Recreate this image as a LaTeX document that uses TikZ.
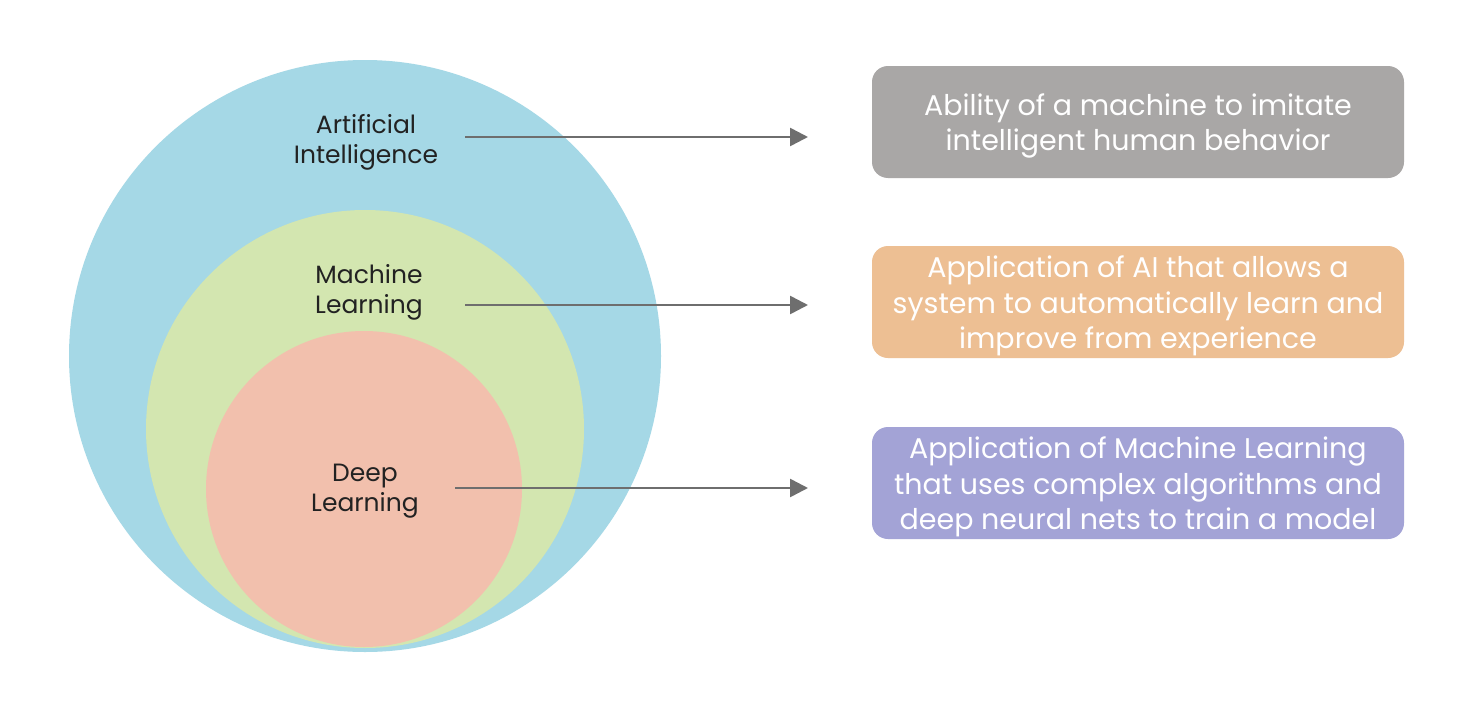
\documentclass[tikz,border=0pt]{standalone}
\usepackage{fontspec}
\setmainfont{Poppins}
\usetikzlibrary{arrows.meta}
\definecolor{aiblue}{HTML}{A5D8E6}
\definecolor{mlgreen}{HTML}{D3E6B0}
\definecolor{dlred}{HTML}{F2C0AD}
\definecolor{boxgray}{HTML}{A9A7A6}
\definecolor{boxorange}{HTML}{EDBF93}
\definecolor{boxpurple}{HTML}{A3A3D6}
\definecolor{arrowgray}{HTML}{6E6E6E}
\definecolor{labeltext}{HTML}{222222}
\tikzset{
  circlabel/.style={align=center, text=labeltext, font=\fontsize{25}{30}\selectfont, inner sep=0pt},
  descbox/.style={rounded corners=16pt, minimum width=532pt, minimum height=112pt, inner sep=0pt},
  desctext/.style={align=center, text=white, font=\fontsize{28.5}{35.5}\selectfont, inner sep=0pt, yshift=-4pt},
  linkarrow/.style={draw=arrowgray, line width=2.6pt, -{Triangle[length=18pt,width=18pt]}}
}
\begin{document}
\begin{tikzpicture}[x=1pt,y=-1pt]
\useasboundingbox (0,0) rectangle (1476,712);
\fill[white] (0,0) rectangle (1476,712);
% circles
\fill[aiblue] (365,356) circle (296);
\fill[mlgreen] (365,429) circle (219);
\fill[dlred] (364,489) circle (158);
% labels
\node[circlabel] (ai) at (366,142) {Artificial\\Intelligence};
\node[circlabel] (ml) at (369,292) {Machine\\Learning};
\node[circlabel] (dl) at (365,491) {Deep\\Learning};
% boxes
\node[descbox, fill=boxgray] (aibox) at (1138,122) {};
\node[desctext] (aitext) at (aibox.center) {Ability of a machine to imitate\\intelligent human behavior};
\node[descbox, fill=boxorange] (mlbox) at (1138,302) {};
\node[desctext] (mltext) at (mlbox.center) {Application of AI that allows a\\system to automatically learn and\\improve from experience};
\node[descbox, fill=boxpurple] (dlbox) at (1138,483) {};
\node[desctext] (dltext) at (dlbox.center) {Application of Machine Learning\\that uses complex algorithms and\\deep neural nets to train a model};
% arrow ends
\coordinate (aistart) at (465,137);
\coordinate (aiend) at (808,137);
\coordinate (mlstart) at (465,305);
\coordinate (mlend) at (808,305);
\coordinate (dlstart) at (455,488);
\coordinate (dlend) at (808,488);
\draw[linkarrow] (aistart) -- (aiend);
\draw[linkarrow] (mlstart) -- (mlend);
\draw[linkarrow] (dlstart) -- (dlend);
\end{tikzpicture}
\end{document}
